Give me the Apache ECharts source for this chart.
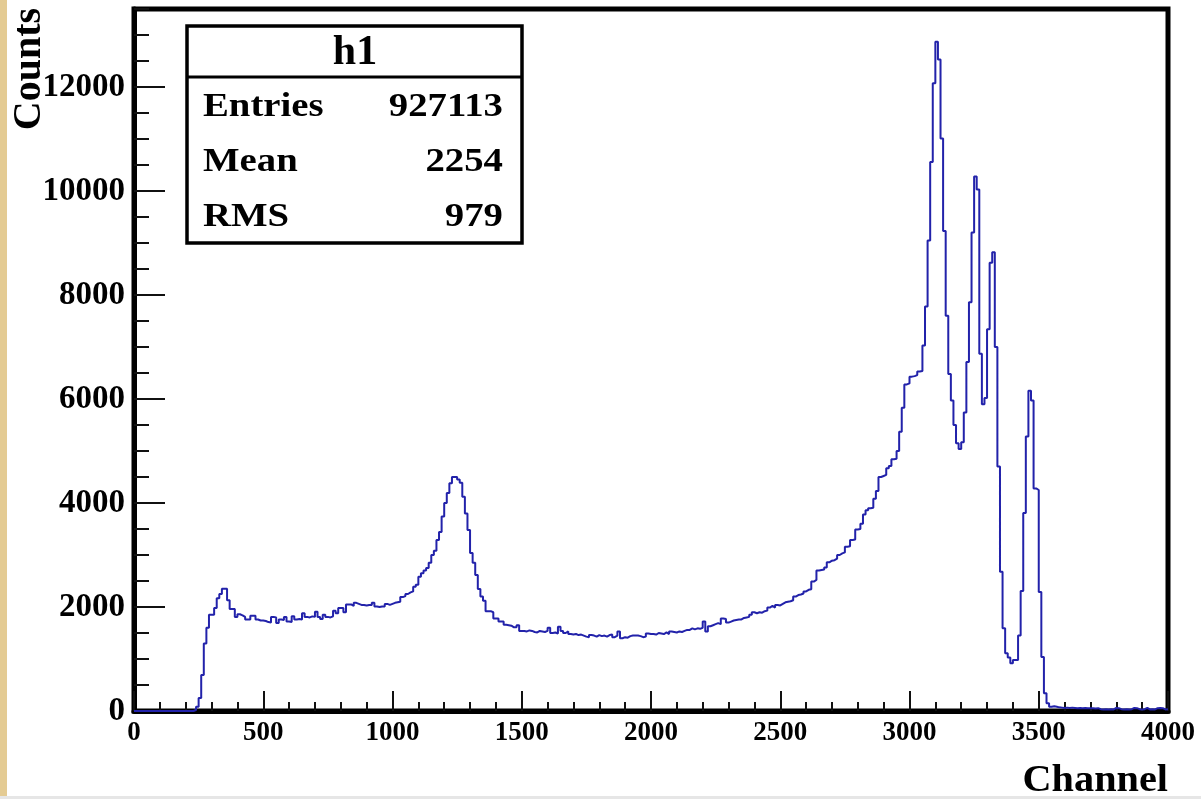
<!DOCTYPE html>
<html>
<head>
<meta charset="utf-8">
<script src="https://cdn.jsdelivr.net/npm/echarts@6/dist/echarts.min.js"></script>
<style>
html,body{margin:0;padding:0;background:#fff;}
#chart{width:1201px;height:799px;}
</style>
</head>
<body>
<div id="chart"></div>
<script>
// ---- data ----
const binWidth = 10;           // channels per bin
const xMin = 0, xMax = 4000;
const yMin = 0, yMax = 13500;
const counts = [
  0,0,0,0,0,0,0,0,0,0,
  0,0,0,0,0,0,0,0,0,0,
  0,0,0,20,80,250,690,1300,1600,1850,
  1850,1980,2170,2250,2350,2350,2130,1960,1960,1810,
  1860,1840,1810,1760,1760,1830,1830,1760,1740,1740,
  1730,1710,1700,1810,1800,1690,1760,1750,1810,1720,
  1710,1820,1760,1770,1760,1880,1810,1800,1820,1810,
  1910,1810,1770,1850,1810,1800,1820,1930,1880,1980,
  1980,1900,2050,2050,2020,2080,2060,2040,2040,2030,
  2040,2040,2080,2010,2000,2010,2010,2060,2040,2060,
  2080,2090,2100,2190,2210,2250,2280,2300,2390,2430,
  2580,2650,2700,2750,2850,3000,3080,3290,3440,3740,
  4000,4190,4380,4500,4500,4450,4390,4120,3800,3480,
  3040,2850,2615,2345,2200,2120,1920,1920,1900,1780,
  1780,1720,1720,1660,1650,1640,1610,1610,1650,1540,
  1540,1530,1550,1540,1520,1510,1540,1530,1520,1540,
  1600,1500,1510,1490,1620,1540,1500,1530,1480,1470,
  1480,1460,1470,1450,1430,1420,1460,1450,1430,1460,
  1440,1450,1430,1460,1470,1420,1450,1530,1400,1420,
  1410,1440,1450,1450,1450,1440,1420,1430,1490,1480,
  1480,1470,1500,1490,1480,1510,1480,1530,1520,1510,
  1530,1520,1540,1560,1560,1590,1570,1590,1580,1600,
  1720,1530,1630,1650,1670,1690,1670,1780,1770,1700,
  1720,1740,1750,1760,1760,1790,1800,1810,1850,1900,
  1880,1900,1890,1920,1930,1990,2020,1990,2040,2030,
  2060,2090,2100,2110,2130,2200,2230,2240,2260,2300,
  2330,2340,2490,2520,2700,2710,2720,2760,2860,2890,
  2900,2930,3000,3030,3050,3160,3170,3290,3300,3490,
  3500,3600,3780,3860,3900,3910,4080,4230,4500,4520,
  4540,4670,4710,4840,4850,5000,5370,5830,6280,6300,
  6430,6440,6460,6530,6540,7030,7780,9050,10560,12070,
  12870,12530,11010,9230,7600,6480,5970,5500,5150,5040,
  5170,5740,6710,7860,9200,10280,10030,6870,5900,6020,
  7340,8620,8820,7000,4700,2680,1590,1110,1030,920,
  980,980,1450,2310,3810,5280,6160,5970,4280,4250,
  2290,1040,340,150,80,90,80,70,65,60,
  65,60,65,60,55,60,55,60,55,55,
  55,50,55,35,30,35,30,35,30,60,
  55,35,30,35,30,35,60,55,35,30,
  35,60,30,35,30,55,60,55,30,35
];
const statsTitle = 'h1';
const statsLabels = ['Entries', 'Mean', 'RMS'];
const statsValues = ['927113', '2254', '979'];
const xAxisTitle = 'Channel';
const yAxisTitle = 'Counts';

// ---- build ----
const histData = counts.map((c, i) => [i * binWidth, c]);
histData.push([counts.length * binWidth, counts[counts.length - 1]]);

const serif = '"Liberation Serif", "Times New Roman", serif';
const plain = v => String(v);
const chart = echarts.init(document.getElementById('chart'), null, {renderer: 'canvas'});

const rowY = [107, 162, 217];
const graphics = [
  {type: 'rect', shape: {x: 0, y: 0, width: 7, height: 799}, style: {fill: '#e4cb93'}, z: 0},
  {type: 'rect', shape: {x: 0, y: 796, width: 1201, height: 3}, style: {fill: '#e6e6e6'}, z: 0},
  {type: 'rect', shape: {x: 187, y: 26, width: 335, height: 217},
   style: {fill: '#fff', stroke: '#000', lineWidth: 3.5}, z: 10},
  {type: 'line', shape: {x1: 187, y1: 77, x2: 522, y2: 77},
   style: {stroke: '#000', lineWidth: 3}, z: 11},
  {type: 'text', x: 355, y: 53, z: 12,
   style: {text: statsTitle, font: 'bold 42px ' + serif, fill: '#000',
           align: 'center', verticalAlign: 'middle', textAlign: 'center', textVerticalAlign: 'middle'}},
  {type: 'text', x: 30, y: 69, rotation: Math.PI / 2, z: 12,
   style: {text: yAxisTitle, font: 'bold 40px ' + serif, fill: '#000',
           align: 'center', verticalAlign: 'middle', textAlign: 'center', textVerticalAlign: 'middle'}},
  {type: 'text', x: 1168, y: 781, scaleX: 1.06, z: 12,
   style: {text: xAxisTitle, font: 'bold 38px ' + serif, fill: '#000',
           align: 'right', verticalAlign: 'middle', textAlign: 'right', textVerticalAlign: 'middle'}}
];
statsLabels.forEach((lab, k) => {
  graphics.push({type: 'text', x: 203, y: rowY[k], scaleX: 1.14, z: 12,
    style: {text: lab, font: 'bold 34px ' + serif, fill: '#000',
            align: 'left', verticalAlign: 'middle', textAlign: 'left', textVerticalAlign: 'middle'}});
  graphics.push({type: 'text', x: 503, y: rowY[k], scaleX: 1.14, z: 12,
    style: {text: statsValues[k], font: 'bold 34px ' + serif, fill: '#000',
            align: 'right', verticalAlign: 'middle', textAlign: 'right', textVerticalAlign: 'middle'}});
});

const option = {
  animation: false,
  backgroundColor: '#fff',
  grid: {left: 134, right: 33, top: 9, bottom: 88, show: true,
         borderColor: '#000', borderWidth: 5, backgroundColor: '#fff'},
  xAxis: {
    type: 'value', min: xMin, max: xMax, interval: 500,
    axisLine: {show: true, onZero: false, lineStyle: {color: '#000', width: 5}},
    axisTick: {show: true, inside: true, length: 20, lineStyle: {color: '#111', width: 2}},
    minorTick: {show: true, splitNumber: 5, length: 9, lineStyle: {color: '#111', width: 2}},
    splitLine: {show: false},
    axisLabel: {color: '#000', fontFamily: serif, fontWeight: 'bold', fontSize: 27, margin: 9,
                formatter: plain}
  },
  yAxis: [
    {
      type: 'value', min: yMin, max: yMax, interval: 2000, position: 'left', offset: 0,
      axisLine: {show: true, onZero: false, lineStyle: {color: '#000', width: 5}},
      axisTick: {show: true, inside: true, length: 31, lineStyle: {color: '#111', width: 2}},
      splitLine: {show: false},
      axisLabel: {color: '#000', fontFamily: serif, fontWeight: 'bold', fontSize: 33, margin: 9,
                  showMaxLabel: false, formatter: plain}
    },
    {
      type: 'value', min: yMin, max: yMax, interval: 500, position: 'left', offset: 0,
      axisLine: {show: false},
      axisTick: {show: true, inside: true, length: 15, lineStyle: {color: '#111', width: 2}},
      splitLine: {show: false},
      axisLabel: {show: false}
    }
  ],
  series: [{
    type: 'line', step: 'end', data: histData, yAxisIndex: 0,
    symbol: 'none', showSymbol: false, clip: true,
    lineStyle: {color: '#2222aa', width: 2},
    z: 5
  }],
  graphic: graphics
};
chart.setOption(option);
</script>
</body>
</html>
